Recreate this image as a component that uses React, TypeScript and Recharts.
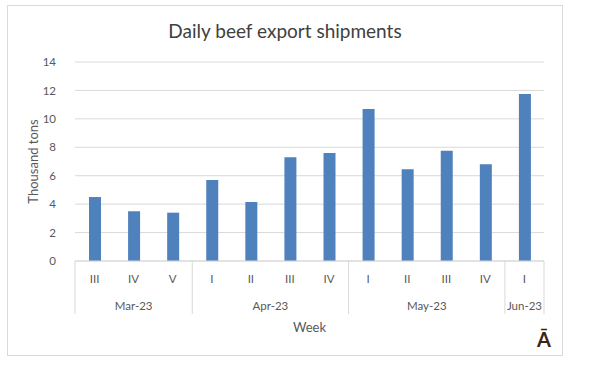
import { BarChart, Bar, XAxis, YAxis, CartesianGrid } from 'recharts';

const weeks = ['III', 'IV', 'V', 'I', 'II', 'III', 'IV', 'I', 'II', 'III', 'IV', 'I'];
const months = ['Mar-23', 'Mar-23', 'Mar-23', 'Apr-23', 'Apr-23', 'Apr-23', 'Apr-23', 'May-23', 'May-23', 'May-23', 'May-23', 'Jun-23'];
const shipments = [4.5, 3.5, 3.4, 5.7, 4.15, 7.3, 7.6, 10.7, 6.45, 7.75, 6.8, 11.75];
const yTicks = [0, 2, 4, 6, 8, 10, 12, 14];

const data = weeks.map((w, i) => ({ week: w, month: months[i], value: shipments[i] }));

const FONT = 'Lato, "Open Sans", sans-serif';
const PLOT_LEFT = 75;
const PLOT_RIGHT = 544;
const BAND = (PLOT_RIGHT - PLOT_LEFT) / weeks.length;

// two-level category tick: week on top, month group underneath with separators
function WeekTick(props: any) {
  const { x, y, payload } = props;
  const i = payload.index;
  const isFirst = i === 0 || months[i - 1] !== months[i];
  const isLast = i === months.length - 1;
  let count = 0;
  if (isFirst) {
    while (i + count < months.length && months[i + count] === months[i]) count++;
  }
  return (
    <g>
      <text x={x} y={y + 22} textAnchor="middle" fill="#595959" fontSize={11.5} fontFamily={FONT}>
        {payload.value}
      </text>
      {isFirst && (
        <>
          <line x1={x - BAND / 2} x2={x - BAND / 2} y1={y} y2={y + 53} stroke="#d9d9d9" />
          <text
            x={x + ((count - 1) / 2) * BAND}
            y={y + 49}
            textAnchor="middle"
            fill="#595959"
            fontSize={11.5}
            fontFamily={FONT}
          >
            {months[i]}
          </text>
        </>
      )}
      {isLast && <line x1={x + BAND / 2} x2={x + BAND / 2} y1={y} y2={y + 53} stroke="#d9d9d9" />}
    </g>
  );
}

export default function App() {
  return (
    <div style={{ position: 'absolute', left: 0, top: 0, width: 595, height: 370, background: '#fff' }}>
      <div
        style={{
          position: 'absolute',
          left: 7,
          top: 5,
          width: 554,
          height: 349,
          border: '1px solid #d9d9d9',
        }}
      />
      <div
        style={{
          position: 'absolute',
          left: 0,
          width: 570,
          top: 19,
          textAlign: 'center',
          fontFamily: FONT,
          fontSize: 19,
          color: '#404040',
        }}
      >
        Daily beef export shipments
      </div>
      <div style={{ position: 'absolute', left: 0, top: 0 }}>
        <BarChart
          width={595}
          height={370}
          data={data}
          margin={{ top: 62, right: 595 - PLOT_RIGHT, bottom: 37, left: 25 }}
        >
          <CartesianGrid vertical={false} stroke="#d9d9d9" />
          <XAxis
            dataKey="week"
            interval={0}
            tickSize={0}
            tickMargin={0}
            height={72}
            axisLine={{ stroke: '#d9d9d9' }}
            tickLine={false}
            tick={<WeekTick />}
            label={{ value: 'Week', position: 'insideBottom', offset: 1, fill: '#595959', fontSize: 13, fontFamily: FONT }}
          />
          <YAxis
            width={PLOT_LEFT - 25}
            domain={[0, 14]}
            ticks={yTicks}
            axisLine={false}
            tickLine={false}
            tickMargin={13}
            tick={{ fill: '#595959', fontSize: 11.5, fontFamily: FONT }}
            label={{
              value: 'Thousand tons',
              angle: -90,
              position: 'center',
              dx: -17,
              fill: '#595959',
              fontSize: 13,
              fontFamily: FONT,
            }}
          />
          <Bar dataKey="value" fill="#4f81bd" barSize={12} isAnimationActive={false} />
        </BarChart>
      </div>
      <div
        style={{
          position: 'absolute',
          left: 537,
          top: 327,
          fontFamily: FONT,
          fontWeight: 'bold',
          fontSize: 20,
          color: '#3b2314',
        }}
      >
        Ā
      </div>
    </div>
  );
}
